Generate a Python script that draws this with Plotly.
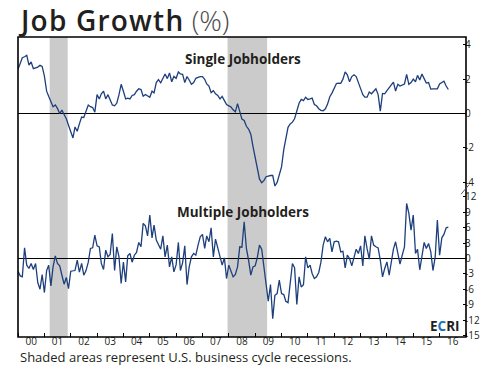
import plotly.graph_objects as go
import pandas as pd

# ---------------- data ----------------
start_month = "2000-01-01"

single_jobholders = [
    2.57, 2.95, 3.25, 3.3, 3.38, 2.81, 3.0, 2.61, 2.65, 2.7, 2.81, 2.74,
    2.18, 1.3, 1.0, 0.7, 0.4, 0.5, 0.3, 0.0, 0.2, -0.05, -0.3, -0.68,
    -1.0, -1.42, -0.78, -1.03, -0.6, -0.2, -0.23, 0.1, 0.5, 0.4, 0.35, 0.08,
    1.1, 0.85, 1.15, 1.3, 0.85, 1.1, 0.85, 0.5, 0.45, 0.6, 1.1, 1.7,
    1.3, 0.85, 0.9, 0.85, 1.05, 1.1, 1.3,
    1.44, 1.4, 1.01, 1.11, 1.01, 0.95, 1.3, 1.2, 1.8, 1.97, 1.79, 2.03,
    2.3, 2.03, 2.36, 1.85, 2.16, 2.05, 2.42, 2.3, 2.28, 1.8, 2.15, 1.95, 1.7,
    1.8, 2.05, 2.1, 2.15, 2.15, 1.99, 1.72, 1.6, 1.22, 1.33,
    1.15, 1.05, 0.85, 1.0, 0.75, 0.52, 0.45, 0.38, 0.22, 0.1, 0.58, 0.1,
    -0.32, -0.4, -0.74, -0.9, -1.2, -1.9,
    -2.5, -3.2, -3.8, -4.02, -3.9, -3.67, -3.63, -3.6, -3.6, -4.21, -4.0, -3.6,
    -3.1, -2.1, -1.4, -0.8, -0.6, -0.5, -0.3, 0.12, 0.6, 0.82, 0.75, 0.95,
    0.82, 0.85, 0.9, 0.53, 0.45, 0.28, 0.19, 0.16, 0.28, 0.55, 0.98, 1.19,
    1.45, 1.75, 1.77, 1.76, 2.0, 2.42, 2.25, 1.85, 2.15, 2.25, 2.15, 1.75,
    1.45, 1.1, 0.95, 0.95, 1.25, 1.15, 1.3, 1.44, 1.1, 0.14, 1.17, 1.15,
    1.33, 1.48, 1.68,
    1.83, 1.31, 1.7, 1.6, 1.65, 1.72, 2.28, 1.7, 1.8, 2.0, 1.85, 2.22,
    1.95, 2.3, 2.03, 1.77, 1.8, 1.42, 1.44, 1.42, 1.44, 1.72, 1.81, 1.88,
    1.6, 1.4,
]

multiple_jobholders = [
    -2.48, -3.39, -3.58, 2.07, -1.3, -1.95, -0.97, -2.15, -0.97, -4.68, -5.98, -3.12,
    -6.63, -2.35, -1.3, -5.34, -1.64, 0.51, -0.97, -1.43, -3.26, -5.0, -3.7, -5.86,
    -2.48, -2.35, -2.35, -0.33, -2.67, -0.97, -3.26, -2.35, -0.72, 1.95, 2.07, 4.55,
    2.46, 2.26, -0.97, -2.15, 1.62, 0.32, 0.78, 4.87, -2.35, 2.26, 0.32, -4.87,
    -0.72, -4.55, 0.51,
    0.97, -0.72, 0.64, 1.17, 3.12, 2.27, 6.82, 6.36, 4.4, 8.44, 4.0, 6.49,
    3.57, 2.73, 1.81, 4.4, 0.32, 2.6, -1.64, 0.32, -2.6,
    -1.2, 3.12, -2.35, -0.8, 2.46, -5.08,
    -1.64, 0.32, 0.97, 0.64, 2.6, 4.2, 4.68, 1.95, 4.4, 3.25, 5.97, 0.32, 3.77,
    2.0, 0.32, -1.3, 0.12, -3.9, -1.3, -2.48, -3.58,
    -3.1, -1.64,
    2.27, 2.2, 7.14, 1.95, -0.33, -3.25, -1.64, -1.43, 0.32, 2.6, 1.81, -1.95,
    -5.34, -8.32, -5.08, -11.7, -7.15, -6.82, -4.23, -6.82, -7.02, -8.32, -8.58, -5.08,
    -0.97, -1.82, -8.97, -3.58, -5.54,
    -5.1, 0.32, -1.82, -1.3, -2.92, -3.9, -3.58, -2.72, -0.72, 2.6, 4.22, 3.25,
    3.9, 1.29, 3.25, 3.38, 3.25, 1.29, 1.4,
    -1.83, 0.64, 0.0, -1.44, 0.32, 1.81, 0.97, 2.46, -1.44, 4.4, 1.9, -0.13,
    4.4, 2.6, 2.27, 2.07, -0.33, -3.58, -1.95, -0.66, -3.25, -0.97, 1.81, 3.25,
    1.17, -1.1, 0.64, 2.27, 10.7, 8.77, 5.52, 8.44, 0.97, 1.81, -2.2, 0.64,
    3.12, 1.95, 2.92, 1.29, -2.35, 0.32, 7.47, 0.64, 4.02, 4.68, 5.97, 6.1,
]

recession_starts = ["2001-03-15", "2007-12-15"]
recession_ends = ["2001-11-20", "2009-06-15"]

top_tick_values = [4, 2, 0, -2, -4]
top_tick_text = ["4", "2", "0", "-2", "-4"]
bottom_tick_values = [12, 9, 6, 3, 0, -3, -6, -9, -12, -15]
bottom_tick_text = ["12", "9", "6", "3", "0", "-3", "-6", "-9", "-12", "-15"]

dates = pd.date_range(start_month, periods=len(single_jobholders), freq="MS")

# ---------------- styling ----------------
LINE = "#1d3f7c"
INK = "#231f20"
FONT = "Open Sans"
SPLIT = 0.493

fig = go.Figure()
fig.add_trace(go.Scatter(x=dates, y=single_jobholders, mode="lines",
                         line=dict(color=LINE, width=1.3), xaxis="x", yaxis="y",
                         hoverinfo="skip", showlegend=False))
fig.add_trace(go.Scatter(x=dates, y=multiple_jobholders, mode="lines",
                         line=dict(color=LINE, width=1.3), xaxis="x", yaxis="y2",
                         hoverinfo="skip", showlegend=False))

shapes = []
for s, e in zip(recession_starts, recession_ends):
    shapes.append(dict(type="rect", xref="x", yref="paper", x0=s, x1=e, y0=0, y1=1,
                       fillcolor="#cbcbcb", line=dict(width=0), layer="below"))
# frame
shapes.append(dict(type="rect", xref="paper", yref="paper", x0=0, x1=1, y0=0, y1=1,
                   line=dict(color="black", width=1.6), layer="above"))
# axis break mark
shapes.append(dict(type="line", xref="paper", yref="paper", x0=0.989, x1=1.007,
                   y0=SPLIT - 0.017, y1=SPLIT + 0.015,
                   line=dict(color="#555555", width=1)))

axis_common = dict(side="right", anchor="x", ticks="inside", ticklen=3, tickcolor="black",
                   tickwidth=1, showgrid=False, showline=False, zeroline=True,
                   zerolinecolor="black", zerolinewidth=1.3, ticklabelstandoff=-2,
                   tickfont=dict(family=FONT, size=10, color=INK), automargin=False,
                   tickmode="array", fixedrange=True)

fig.update_layout(
    width=495, height=375,
    margin=dict(l=18, r=29, t=37, b=38),
    paper_bgcolor="white", plot_bgcolor="rgba(0,0,0,0)",
    showlegend=False,
    xaxis=dict(type="date", range=["2000-01-01", "2017-01-01"], anchor="y2",
               dtick="M12", tick0="2000-01-01", tickformat="%y", ticklabelmode="period",
               ticks="inside", ticklen=4, tickcolor="black", showgrid=False,
               showline=False, zeroline=False, automargin=False, ticklabelstandoff=-3,
               fixedrange=True, tickfont=dict(family=FONT, size=10, color=INK)),
    yaxis=dict(domain=[SPLIT, 1], range=[-4.39, 4.45],
               tickvals=top_tick_values, ticktext=top_tick_text, **axis_common),
    yaxis2=dict(domain=[0, SPLIT], range=[-15.28, 13.5],
                tickvals=bottom_tick_values, ticktext=bottom_tick_text, **axis_common),
    shapes=shapes,
    annotations=[
        dict(xref="paper", yref="paper", x=-0.004, y=1.057, xanchor="left", yanchor="middle",
             showarrow=False,
             text="<span style='letter-spacing:1.2px'>Job Growth</span> "
                  "<span style='color:#4a4a4a;font-weight:300'>(%)</span>",
             font=dict(family=FONT, size=28, color=INK, weight=600)),
        dict(xref="paper", yref="paper", x=0.502, y=0.928, xanchor="center", yanchor="middle",
             showarrow=False, text="<b>Single Jobholders</b>",
             font=dict(family=FONT, size=13.5, color=INK)),
        dict(xref="paper", yref="paper", x=0.502, y=0.417, xanchor="center", yanchor="middle",
             showarrow=False, text="<b>Multiple Jobholders</b>",
             font=dict(family=FONT, size=13.5, color=INK)),
        dict(xref="paper", yref="paper", x=0.991, y=0.037, xanchor="right", yanchor="middle",
             showarrow=False,
             text="<b>E<span style='color:#1b75bc'>C</span>RI</b>",
             font=dict(family=FONT, size=13.5, color=INK)),
        dict(xref="paper", yref="paper", x=0.0, y=-0.066, xanchor="left", yanchor="middle",
             showarrow=False, text="Shaded areas represent U.S. business cycle recessions.",
             font=dict(family=FONT, size=13, color=INK)),
    ],
)

fig.write_html("out.html", config={"displayModeBar": False, "staticPlot": True},
               post_script="document.body.style.margin='0px';")
